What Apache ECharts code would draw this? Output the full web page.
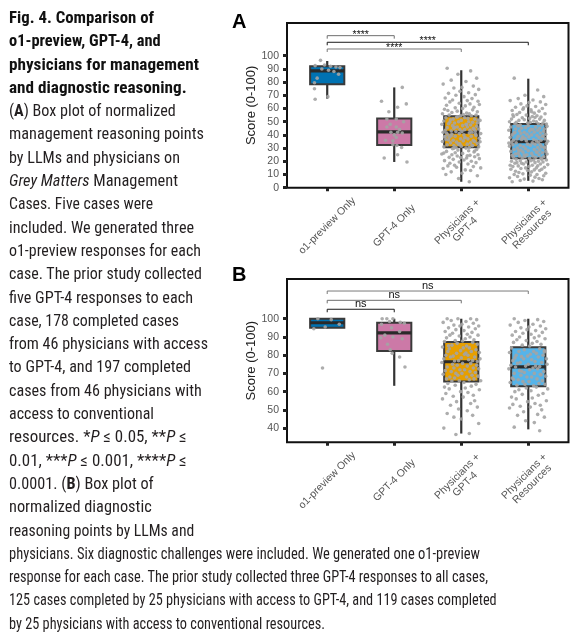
<!DOCTYPE html>
<html>
<head>
<meta charset="utf-8">
<script src="https://cdn.jsdelivr.net/npm/echarts@6/dist/echarts.min.js"></script>
<style>
  html, body { margin:0; padding:0; width:583px; height:638px; background:#fff; overflow:hidden; }
  #chart { position:absolute; left:0; top:0; width:583px; height:638px; }
  .cap { position:absolute; left:9px; top:6px; font-family:"Liberation Sans Narrow","Roboto Condensed","DejaVu Sans Condensed","Arial Narrow",sans-serif;
         font-size:17px; line-height:23.3px; color:#231f20; white-space:nowrap; }
  .cap div { height:23.3px; }
  .cap span { display:inline-block; transform-origin:0 50%; }
  .cap b.t { font-weight:bold; color:#111; }
</style>
</head>
<body>
<div id="chart"></div>
<div class="cap" id="cap">
  <div data-w="154"><span><b class="t">Fig. 4. Comparison of</b></span></div>
  <div data-w="160.7"><span><b class="t">o1-preview, GPT-4, and</b></span></div>
  <div data-w="199"><span><b class="t">physicians for management</b></span></div>
  <div data-w="186.7"><span><b class="t">and diagnostic reasoning.</b></span></div>
  <div data-w="175.7"><span>(<b>A</b>) Box plot of normalized</span></div>
  <div data-w="204"><span>management reasoning points</span></div>
  <div data-w="180"><span>by LLMs and physicians on</span></div>
  <div data-w="178"><span><i>Grey Matters</i> Management</span></div>
  <div data-w="153"><span>Cases. Five cases were</span></div>
  <div data-w="194"><span>included. We generated three</span></div>
  <div data-w="201"><span>o1-preview responses for each</span></div>
  <div data-w="202"><span>case. The prior study collected</span></div>
  <div data-w="193"><span>five GPT-4 responses to each</span></div>
  <div data-w="179"><span>case, 178 completed cases</span></div>
  <div data-w="208"><span>from 46 physicians with access</span></div>
  <div data-w="191"><span>to GPT-4, and 197 completed</span></div>
  <div data-w="201.7"><span>cases from 46 physicians with</span></div>
  <div data-w="154"><span>access to conventional</span></div>
  <div data-w="186.7"><span>resources. *<i>P</i> ≤ 0.05, **<i>P</i> ≤</span></div>
  <div data-w="186.7"><span>0.01, ***<i>P</i> ≤ 0.001, ****<i>P</i> ≤</span></div>
  <div data-w="153.7"><span>0.0001. (<b>B</b>) Box plot of</span></div>
  <div data-w="151.7"><span>normalized diagnostic</span></div>
  <div data-w="194.3"><span>reasoning points by LLMs and</span></div>
  <div data-w="480"><span>physicians. Six diagnostic challenges were included. We generated one o1-preview</span></div>
  <div data-w="488"><span>response for each case. The prior study collected three GPT-4 responses to all cases,</span></div>
  <div data-w="496.7"><span>125 cases completed by 25 physicians with access to GPT-4, and 119 cases completed</span></div>
  <div data-w="325"><span>by 25 physicians with access to conventional resources.</span></div>
</div>
<script>
// ---------------- DATA ----------------
const CATEGORIES = ['o1-preview Only', 'GPT-4 Only', 'Physicians +\nGPT-4', 'Physicians +\nResources'];
const BOX_COLORS = ['#0072B2', '#CC79A7', '#E69F00', '#56B4E9'];
const Y_TICKS_A = [0, 10, 20, 30, 40, 50, 60, 70, 80, 90, 100];
const Y_TICKS_B = [40, 50, 60, 70, 80, 90, 100];

// [min, Q1, median, Q3, max]
const A_BOX = [
  [67.5, 78.3, 88.5, 92, 96],
  [19.5, 32.3, 42.3, 52.5, 76],
  [4.5, 30.6, 42, 54.2, 89],
  [5.2, 22.3, 34.8, 48.3, 82.6]
];
const B_BOX = [
  [94.8, 95, 97.8, 100, 100],
  [63.2, 82.3, 92.2, 97.8, 100],
  [37, 65.5, 76.4, 87.2, 100],
  [39.3, 63, 73.6, 84.3, 100]
];

// significance brackets: [from, to, height]
const A_BRACKETS = [[0, 1, 115.2], [0, 3, 110.2], [0, 2, 105.1]];
const A_BRACKET_LABELS = ['****', '****', '****'];
const A_BRACKET_COLORS = ['#6f6f6f', '#1a1a1a', '#7a7a7a'];
const B_BRACKETS = [[0, 3, 115.2], [0, 2, 110.1], [0, 1, 105.2]];
const B_BRACKET_LABELS = ['ns', 'ns', 'ns'];
const B_BRACKET_COLORS = ['#7a7a7a', '#6f6f6f', '#1a1a1a'];

// individual points of the small groups: [jitter, score]
const A_O1_PTS = [[-0.1,96.5],[-0.18,92.5],[-0.04,93],[0.13,91.5],[0.02,89],[0.17,86],[-0.15,83],[-0.19,79.5],
  [-0.19,75],[-0.18,67],[0.01,69],[0.05,92],[-0.08,90],[0.1,88],[0.19,91]];
const A_GPT_PTS = [[0.12,76],[-0.19,65.5],[-0.08,57.5],[0.05,61],[0.18,63.5],[-0.11,52],[0.03,52],[-0.11,46],
  [0.03,46],[-0.05,42],[0.05,42],[0.12,41.5],[0.03,38],[-0.02,35.5],[-0.02,32.5],[0.04,32],[0.11,30.5],
  [-0.15,22.5],[0.05,25],[0.19,19.5],[-0.06,48],[0.08,44],[-0.13,36],[0.14,50],[0.0,40]];
const B_O1_PTS = [[-0.2,94.5],[-0.14,100],[-0.03,95.5],[0.06,99.5],[-0.07,73],[0.18,97]];
const B_GPT_PTS = [[-0.18,100],[-0.11,100],[-0.02,100],[-0.07,98.5],[0.09,98],[-0.19,97],[-0.04,95],[-0.14,91],
  [-0.2,89.5],[0.12,89],[-0.06,83],[-0.03,81],[0.08,79],[0.16,73.5],[0.08,93],[-0.1,86],[0.15,97.5],[-0.02,90]];

// physician scores (large groups)
const A_PHYS_GPT = [90.5,88.5,86,83,81.5,80.5,78.5,77,76,75.5,74.5,73,72,71.5,70.5,70,69,68,67.5,66.5,
  66,65.5,65,64,63.5,62.5,62,61,60.5,60,59.5,59,58,57.5,57,56.5,56,56,55.5,55,55,54.5,54.5,58.5,63,
  53.5,53,53,52.5,52,52,51.5,51,51,50.5,50,50,49.5,49,49,48.5,48,48,47.5,47,47,46.5,46,46,45.5,45,45,44.5,44,44,
  43.5,43.5,43,43,42.5,42.5,42,42,53.8,51.2,49.8,47.8,45.8,44.2,
  41.5,41.5,41,41,40.5,40,40,39.5,39,39,38.5,38,38,37.5,37,37,36.5,36,36,35.5,35,35,34.5,34,34,33.5,33,33,32.5,32,
  32,31.5,31,31,30.5,30.5,40.8,39.2,37.8,36.2,34.8,33.2,31.8,38.8,
  30,29.5,29,28.5,28,27.5,27,26.5,26,25.5,25,25,24.5,24,23.5,23,22.5,22,21.5,21,20.5,20,19.5,19,18.5,18,17,16.5,16,15.5,
  15,14.5,13.5,13,12,11,10,9,7,4.5,29.8,27.8,26.2,24.2,22.8];
const A_PHYS_RES = [83,74,70,69,67.5,66.5,66,65,64.5,63.5,63,62,61.5,61,60,59.5,59,58.5,58,57,56.5,56,55.5,55,54.5,54,54,53.5,53,52.5,
  52,52,51.5,51,51,50.5,50,50,49.5,49.5,49,49,48.5,48.5,48.2,60.5,57.5,55.2,53.2,
  47.5,47.5,47,47,46.5,46,46,45.5,45,45,44.5,44.5,44,43.5,43.5,43,43,42.5,42,42,41.5,41.5,41,40.5,40.5,40,40,39.5,39,39,
  38.5,38.5,38,38,37.5,37,37,36.5,36.5,36,36,35.5,35.5,35.2,46.8,44.2,41.8,39.2,37.8,
  34.5,34.5,34,34,33.5,33,33,32.5,32.5,32,32,31.5,31,31,30.5,30,30,29.5,29,29,28.5,28.5,28,27.5,27.5,27,27,26.5,26,26,
  25.5,25.5,25,25,24.5,24,24,23.5,23.5,23,23,22.5,22.5,22.2,33.8,30.8,28.2,26.8,24.8,
  21.5,21.5,21,21,20.5,20.5,20,20,19.5,19.5,19,19,18.5,18.5,18,18,17.5,17,17,16.5,16.5,16,16,15.5,15,15,14.5,14,14,13.5,
  13,13,12.5,12,11.5,11,10.5,10,10,9.5,9,8.5,8,7.5,7,6.5,6,5.5,5,4.5];
const B_PHYS_GPT = [100,100,100,99.5,99,98.5,98,97.5,97,96.5,96,96,95.5,95,94.5,94,93.5,93,92.5,92,91.5,91,91,90.5,90,89.5,89,88.5,88,87.8,87.5,
  87,86.5,86,85.5,85,84.5,84,84,83.5,83,82.5,82,82,81.5,81,80.5,80,80,79.5,79,79,78.5,78,78,77.5,77,77,76.8,76.5,85.2,81.2,
  76,75.5,75.5,75,74.5,74.5,74,73.5,73,73,72.5,72,72,71.5,71,71,70.5,70,70,69.5,69,69,68.5,68,68,67.5,67,67,66.5,66,66,65.8,
  65,64.5,64,63.5,63,62.5,62,61.5,61,60,59.5,59,58,57.5,57,56,55,54.5,53.5,52.5,51.5,50.5,49.5,48,47,46,45,42.5,40,37,36.5];
const B_PHYS_RES = [100,99.5,99,98.5,98,97,96.5,96,95.5,95,94.5,94,93.5,93,92.5,92,91.5,91,90.5,90,89.5,89,88.5,88,87.5,87,86.5,86,85.5,85,
  84,83.5,83,82.5,82,82,81.5,81,80.5,80,80,79.5,79,78.5,78,78,77.5,77,76.5,76,76,75.5,75,75,74.5,74,74,73.8,79.2,81.8,
  73.5,73,72.5,72.5,72,71.5,71,70.5,70,70,69.5,69,68.5,68,68,67.5,67,66.5,66,65.5,65.5,65,64.5,64,64,63.5,63.2,71.2,69.2,66.8,
  62.5,62,61.5,61,60.5,60,59,58.5,58,57,56.5,56,55,54.5,53.5,53,52.5,52,51.5,51,50,49,47.5,47,46,44,43,40.5,38.5];

// horizontal jitter read for the physician points
const JITTER = [-0.21,0.14,-0.05,0.23,-0.15,0.07,-0.27,0.18,0.01,-0.11,
  0.26,-0.02,0.11,-0.19,0.21,-0.08,0.04,-0.24,0.16,-0.13,
  0.09,0.25,-0.17,-0.03,0.13,-0.22,0.06,0.19,-0.09,0.02,
  -0.25,0.17,-0.06,0.24,-0.14,0.08,-0.28,0.12,0.03,-0.18,
  0.22,-0.01,0.15,-0.2,0.27,-0.07,0.05,-0.23,0.1,-0.12,
  0.2,-0.16,0.0,0.28,-0.26,0.11,-0.04,0.17,-0.1,0.24,
  -0.19,0.07,-0.29,0.14,0.02,-0.13,0.23,-0.06,0.09,-0.21,
  0.18,-0.11,0.26,-0.02,0.05,-0.24,0.13,-0.15,0.21,-0.08,
  0.01,-0.27,0.16,-0.05,0.25,-0.17,0.08,-0.1,0.19,-0.22,
  0.12,-0.03,0.29,-0.14,0.04,-0.2,0.22,-0.09,0.15,-0.25,
  0.06,-0.18,0.27,-0.01,0.1,-0.23,0.18,-0.12,0.03,-0.28,
  0.2,-0.07,0.14,-0.16,0.24,-0.04,0.09,-0.21,0.17,-0.11,
  0.0,0.26,-0.26,0.12,-0.08,0.21,-0.15,0.05,-0.19,0.28,
  -0.02,0.16,-0.24,0.07,-0.13,0.23,-0.05,0.11,-0.22,0.19,
  -0.09,0.02,-0.29,0.25,-0.14,0.13,-0.06,0.2,-0.18,0.08,
  0.27,-0.12,0.04,-0.25,0.15,-0.03,0.22,-0.17,0.1,-0.1,
  -0.2,0.18,-0.07,0.29,-0.27,0.06,0.14,-0.15,0.01,-0.23,
  0.24,-0.04,0.12,-0.11,0.2,-0.26,0.09,-0.01,0.17,-0.19,
  0.05,-0.14,0.26,-0.08,0.13,-0.21,0.03,0.23,-0.16,0.1,
  -0.28,0.16,-0.06,0.21,-0.12,0.07,-0.24,0.15,-0.02,0.28];

// ---------------- CAPTION FIT ----------------
document.querySelectorAll('#cap div').forEach(function (d) {
  const s = d.firstElementChild;
  const w = s.getBoundingClientRect().width;
  const target = parseFloat(d.getAttribute('data-w')) - 9;
  if (w > 0) s.style.transform = 'scaleX(' + (target / w).toFixed(4) + ')';
});

// ---------------- BUILD ----------------
const FONT = 'Liberation Sans, Arial, Helvetica, sans-serif';
const BOX_W = 0.51;

function pts(group, list) { return list.map(p => [group + p[0], p[1]]); }
function phys(group, vals) { return vals.map((v, k) => [group + JITTER[k % JITTER.length], v]); }

function boxRender(params, api) {
  const x = api.value(0);
  const lo = api.coord([x, api.value(1)]);
  const q1 = api.coord([x, api.value(2)]);
  const md = api.coord([x, api.value(3)]);
  const q3 = api.coord([x, api.value(4)]);
  const hi = api.coord([x, api.value(5)]);
  const w = api.size([BOX_W, 0])[0];
  return { type: 'group', children: [
    { type: 'line', shape: { x1: lo[0], y1: lo[1], x2: hi[0], y2: hi[1] }, style: { stroke: '#333', lineWidth: 2.2 } },
    { type: 'rect', shape: { x: q3[0] - w / 2, y: q3[1], width: w, height: q1[1] - q3[1] },
      style: { fill: BOX_COLORS[params.dataIndex], stroke: '#3a3a3a', lineWidth: 2 } },
    { type: 'line', shape: { x1: md[0] - w / 2, y1: md[1], x2: md[0] + w / 2, y2: md[1] }, style: { stroke: '#2a2a2a', lineWidth: 3.2 } }
  ]};
}
function bracketRender(labels, colors, fontSize, gap) {
  return function (params, api) {
    const a = api.coord([api.value(0), api.value(2)]);
    const b = api.coord([api.value(1), api.value(2)]);
    return { type: 'group', children: [
      { type: 'polyline', shape: { points: [[a[0], a[1] + 3], [a[0], a[1]], [b[0], b[1]], [b[0], b[1] + 3]] },
        style: { stroke: colors[params.dataIndex], lineWidth: 1, fill: null } },
      { type: 'text', style: { text: labels[params.dataIndex], x: (a[0] + b[0]) / 2, y: a[1] - gap,
        align: 'center', verticalAlign: 'bottom', fill: '#111', font: fontSize + 'px ' + FONT } }
    ]};
  };
}

function xAxis(gi) {
  return {
    type: 'value', gridIndex: gi, min: -0.6, max: 3.6,
    axisLine: { show: false, onZero: false }, splitLine: { show: false },
    axisTick: { show: true, customValues: [0, 1, 2, 3], length: 3.5, lineStyle: { color: '#222', width: 3 } },
    axisLabel: { customValues: [0, 1, 2, 3], formatter: v => CATEGORIES[Math.round(v)], rotate: 45,
      align: 'center', verticalAlign: 'middle', margin: 38, color: '#555', fontSize: 10.5, lineHeight: 11, fontFamily: FONT }
  };
}
function yAxis(gi, min, max, ticks) {
  return {
    type: 'value', gridIndex: gi, min: min, max: max,
    name: 'Score (0-100)', nameLocation: 'middle', nameGap: 29,
    nameTextStyle: { color: '#222', fontSize: 13, fontFamily: FONT },
    axisLine: { show: false, onZero: false }, splitLine: { show: false },
    axisTick: { show: true, customValues: ticks, length: 4, lineStyle: { color: '#222', width: 3 } },
    axisLabel: { customValues: ticks, margin: 8, color: '#555', fontSize: 10.5, fontFamily: FONT }
  };
}
const scatterStyle = { color: '#a4a4a4', opacity: 0.9 };
function scatter(gi, data) {
  return { type: 'scatter', xAxisIndex: gi, yAxisIndex: gi, data: data, symbolSize: 3.6, itemStyle: scatterStyle, z: 5, silent: true };
}

const chart = echarts.init(document.getElementById('chart'), null, { renderer: 'canvas' });
chart.setOption({
  animation: false,
  backgroundColor: '#fff',
  grid: [
    { left: 287, top: 23, width: 281.5, height: 164.7, show: true, borderColor: '#111', borderWidth: 2, backgroundColor: 'transparent' },
    { left: 287, top: 279, width: 281.5, height: 163.3, show: true, borderColor: '#111', borderWidth: 2, backgroundColor: 'transparent' }
  ],
  xAxis: [xAxis(0), xAxis(1)],
  yAxis: [yAxis(0, 0, 124.8, Y_TICKS_A), yAxis(1, 32.2, 121.8, Y_TICKS_B)],
  graphic: [
    { type: 'text', left: 232, top: 12, style: { text: 'A', font: 'bold 20px ' + FONT, fill: '#000' } },
    { type: 'text', left: 232, top: 265, style: { text: 'B', font: 'bold 20px ' + FONT, fill: '#000' } }
  ],
  series: [
    { type: 'custom', xAxisIndex: 0, yAxisIndex: 0, renderItem: boxRender, data: A_BOX.map((b, i) => [i].concat(b)), z: 2, silent: true },
    { type: 'custom', xAxisIndex: 1, yAxisIndex: 1, renderItem: boxRender, data: B_BOX.map((b, i) => [i].concat(b)), z: 2, silent: true },
    scatter(0, pts(0, A_O1_PTS).concat(pts(1, A_GPT_PTS), phys(2, A_PHYS_GPT), phys(3, A_PHYS_RES))),
    scatter(1, pts(0, B_O1_PTS).concat(pts(1, B_GPT_PTS), phys(2, B_PHYS_GPT), phys(3, B_PHYS_RES))),
    { type: 'custom', xAxisIndex: 0, yAxisIndex: 0, renderItem: bracketRender(A_BRACKET_LABELS, A_BRACKET_COLORS, 10.5, -4.5), data: A_BRACKETS, z: 6, silent: true },
    { type: 'custom', xAxisIndex: 1, yAxisIndex: 1, renderItem: bracketRender(B_BRACKET_LABELS, B_BRACKET_COLORS, 11, 0), data: B_BRACKETS, z: 6, silent: true }
  ]
});
</script>
</body>
</html>
